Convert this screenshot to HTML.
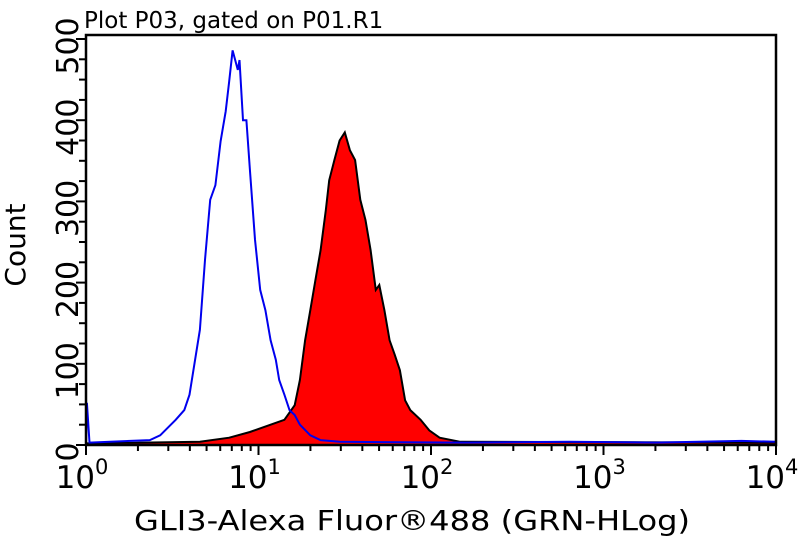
<!DOCTYPE html>
<html><head><meta charset="utf-8"><style>
body{margin:0;background:#fff;width:800px;height:540px;overflow:hidden}
svg text{font-family:"DejaVu Sans","Liberation Sans",sans-serif;fill:#000}
</style></head><body>
<svg id="chart" width="800" height="540" viewBox="0 0 800 540"></svg>
<script>
const blueLog=[0,0.005,0.02,0.37,0.43,0.52,0.57,0.60,0.66,0.69,0.72,0.75,0.78,0.81,0.83,0.85,0.88,0.89,0.91,0.93,0.95,0.98,1.01,1.04,1.07,1.10,1.12,1.15,1.18,1.21,1.24,1.30,1.36,1.47,2.2,2.8,3.3,3.8,4.0];
const blueCount=[0,52,3,6,12,31,43,62,142,228,302,320,374,411,448,486,462,474,400,400,339,253,191,166,129,105,80,62,43,37,25,12,6,4,3,4,3,5,4];
const redLog=[0,0.66,0.83,0.95,1.07,1.15,1.21,1.24,1.27,1.30,1.33,1.36,1.39,1.41,1.44,1.47,1.50,1.53,1.56,1.59,1.62,1.65,1.68,1.70,1.73,1.76,1.79,1.82,1.85,1.88,1.94,1.99,2.05,2.17,4.0];
const redCount=[2,4,9,16,25,31,49,80,129,166,203,240,289,326,351,375,385,363,351,302,277,240,191,197,166,129,111,92,55,43,31,18,9,4,3];
const xTickLabels=["0","1","2","3","4"];
const yTickLabels=["0","100","200","300","400","500"];
const NS="http://www.w3.org/2000/svg";
const svg=document.getElementById('chart');
const L=86,R=776,T=35,B=445;
const xs=v=>L+v*(R-L)/4;
const ys=c=>B-c*0.812;
function mk(t,a){const e=document.createElementNS(NS,t);for(const k in a)e.setAttribute(k,a[k]);svg.appendChild(e);return e;}
let d='M'+xs(redLog[0])+','+B;
redLog.forEach((v,i)=>{d+=' L'+xs(v).toFixed(1)+','+ys(redCount[i]).toFixed(1);});
d+=' L'+xs(redLog[redLog.length-1])+','+B+' Z';
const rf=mk('path',{d:d,fill:'#ff0000',stroke:'none'});


let d2='';redLog.forEach((v,i)=>{d2+=(i?' L':'M')+xs(v).toFixed(1)+','+ys(redCount[i]).toFixed(1);});
const rl=mk('path',{d:d2,fill:'none',stroke:'#000','stroke-width':2});


let d3='';blueLog.forEach((v,i)=>{d3+=(i?' L':'M')+xs(v).toFixed(1)+','+ys(blueCount[i]).toFixed(1);});
const bl=mk('path',{d:d3,fill:'none',stroke:'#0000ee','stroke-width':2});


const fr=mk('rect',{x:L,y:T,width:R-L,height:B-T,fill:'none',stroke:'#000','stroke-width':2.5});


for(let c=0;c<=500;c+=25){const ln=mk('line',{x1:L-(c%100==0?10:7),x2:L,y1:ys(c),y2:ys(c),stroke:'#000','stroke-width':2});

}
yTickLabels.forEach((s,i)=>{const y=ys(+s)+7;const t=mk('text',{x:0,y:0,'font-size':30,'text-anchor':'middle',transform:`translate(78,${y}) rotate(-90)`});t.textContent=s;

});
for(let dec=0;dec<4;dec++){for(let m=1;m<=9;m++){const v=dec+Math.log10(m);const ln=mk('line',{x1:xs(v),x2:xs(v),y1:B,y2:B+(m==1?10:6),stroke:'#000','stroke-width':2});

}}
const l4=mk('line',{x1:xs(4),x2:xs(4),y1:B,y2:B+10,stroke:'#000','stroke-width':2});


xTickLabels.forEach(s=>{const t=mk('text',{x:xs(+s)-4,y:488,'font-size':31,'text-anchor':'middle'});t.innerHTML='10<tspan dy="-14" font-size="21">'+s+'</tspan>';

});
const ti=mk('text',{x:84,y:28,'font-size':23});ti.textContent='Plot P03, gated on P01.R1';


const xt=mk('text',{x:412,y:530,'font-size':28,'text-anchor':'middle','textLength':556,'lengthAdjust':'spacingAndGlyphs'});xt.textContent='GLI3-Alexa Fluor®488 (GRN-HLog)';


const yt=mk('text',{x:0,y:0,'font-size':28,'text-anchor':'middle',transform:'translate(25,245) rotate(-90)'});yt.textContent='Count';


</script>
</body></html>
